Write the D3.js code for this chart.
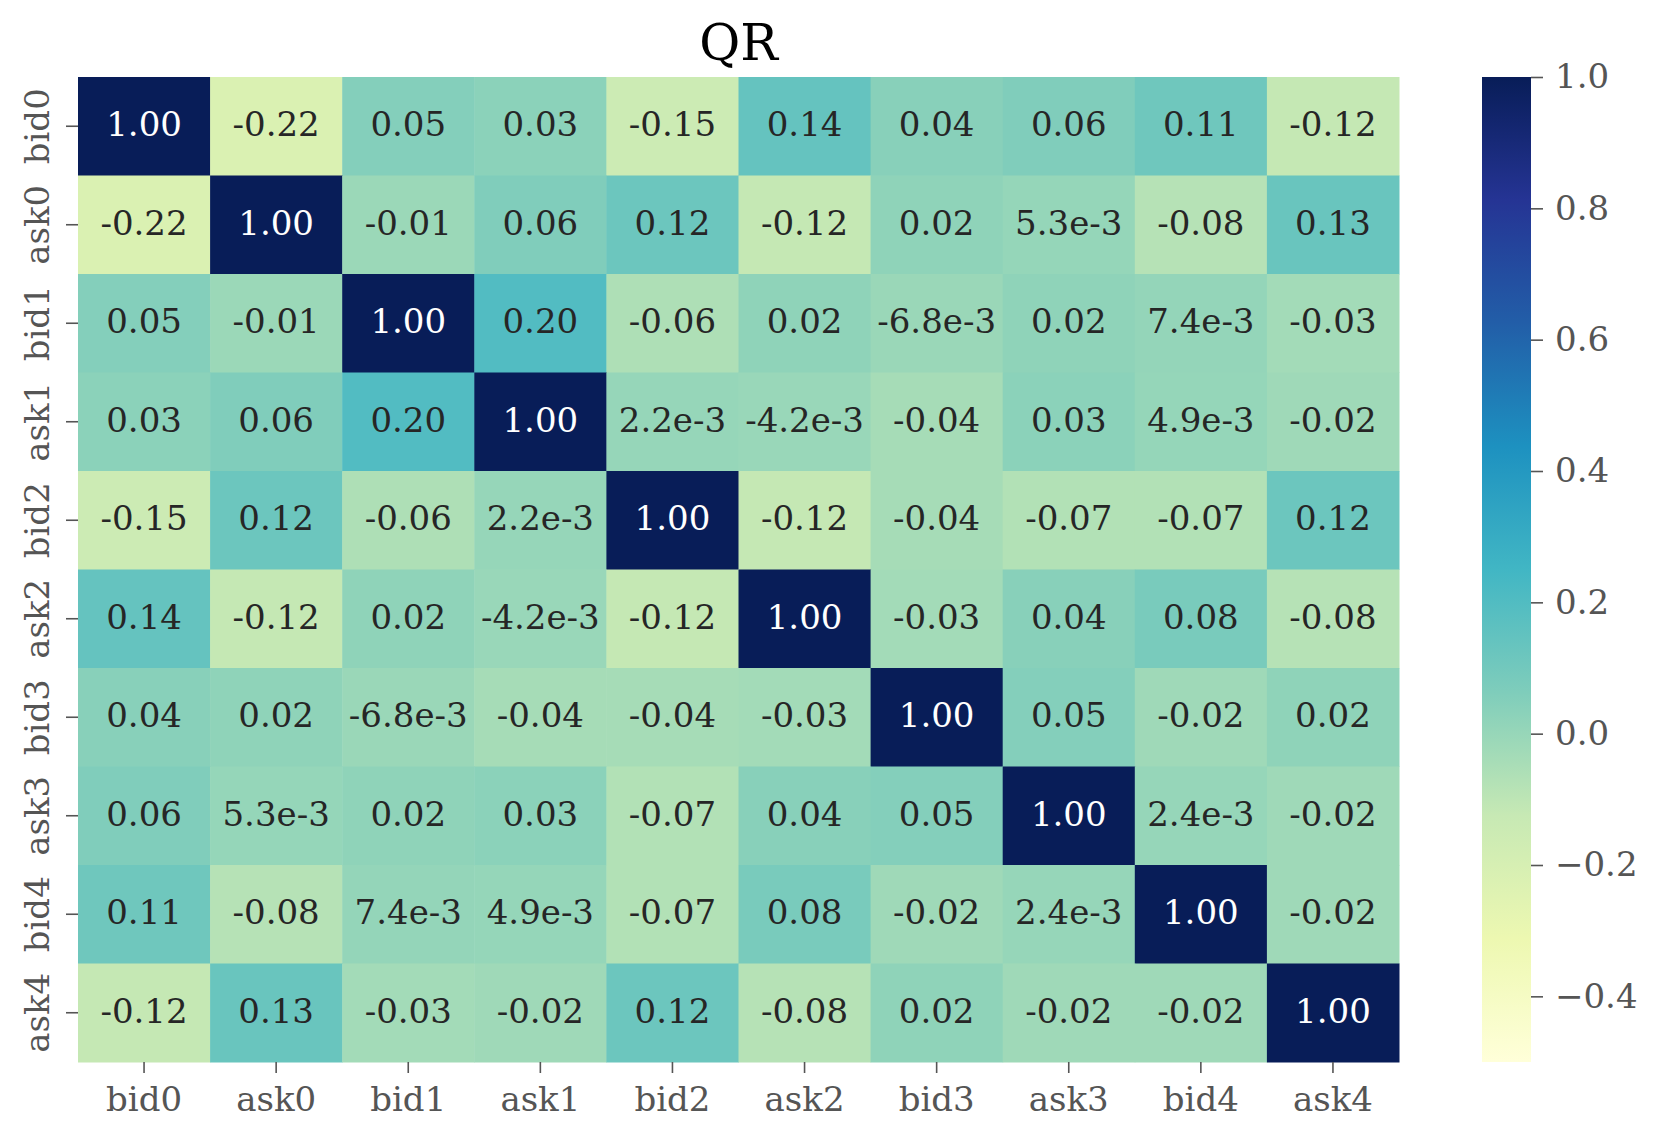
<!DOCTYPE html>
<html lang="en">
<head>
  <meta charset="UTF-8">
  <title>QR</title>
  <script src="https://d3js.org/d3.v7.min.js"></script>
  <style>
    body { margin: 0; background: #fff; }
    svg text { font-family: "DejaVu Serif", serif; }
    .tick line { stroke: #555; stroke-width: 1.6px; }
    .tick text { fill: #555; font-size: 34px; }
    .domain { display: none; }
  </style>
</head>
<body>
  <svg id="chart" width="1661" height="1140"></svg>
  <script>
    // labels for both axes
    const labels = ["bid0", "ask0", "bid1", "ask1", "bid2", "ask2", "bid3", "ask3", "bid4", "ask4"];

    // correlation rows
    const rowBid0 = [1.00, -0.22, 0.05, 0.03, -0.15, 0.14, 0.04, 0.06, 0.11, -0.12];
    const rowAsk0 = [-0.22, 1.00, -0.01, 0.06, 0.12, -0.12, 0.02, 0.0053, -0.08, 0.13];
    const rowBid1 = [0.05, -0.01, 1.00, 0.20, -0.06, 0.02, -0.0068, 0.02, 0.0074, -0.03];
    const rowAsk1 = [0.03, 0.06, 0.20, 1.00, 0.0022, -0.0042, -0.04, 0.03, 0.0049, -0.02];
    const rowBid2 = [-0.15, 0.12, -0.06, 0.0022, 1.00, -0.12, -0.04, -0.07, -0.07, 0.12];
    const rowAsk2 = [0.14, -0.12, 0.02, -0.0042, -0.12, 1.00, -0.03, 0.04, 0.08, -0.08];
    const rowBid3 = [0.04, 0.02, -0.0068, -0.04, -0.04, -0.03, 1.00, 0.05, -0.02, 0.02];
    const rowAsk3 = [0.06, 0.0053, 0.02, 0.03, -0.07, 0.04, 0.05, 1.00, 0.0024, -0.02];
    const rowBid4 = [0.11, -0.08, 0.0074, 0.0049, -0.07, 0.08, -0.02, 0.0024, 1.00, -0.02];
    const rowAsk4 = [-0.12, 0.13, -0.03, -0.02, 0.12, -0.08, 0.02, -0.02, -0.02, 1.00];
    const rows = [rowBid0, rowAsk0, rowBid1, rowAsk1, rowBid2, rowAsk2, rowBid3, rowAsk3, rowBid4, rowAsk4];

    const colorTicks = [-0.4, -0.2, 0.0, 0.2, 0.4, 0.6, 0.8, 1.0];
    const vmin = -0.5, vmax = 1.0;

    // matplotlib YlGnBu anchors
    const ylgnbu = ["#ffffd9", "#edf8b1", "#c7e9b4", "#7fcdbb", "#41b6c4", "#1d91c0", "#225ea8", "#253494", "#081d58"];

    const svg = d3.select("#chart");
    const margin = {left: 78, top: 77, right: 1399, bottom: 1062};

    const x = d3.scaleBand().domain(labels).range([margin.left, margin.right]);
    const y = d3.scaleBand().domain(labels).range([margin.top, margin.bottom]);

    const color = d3.scaleLinear()
      .domain(ylgnbu.map((c, i) => vmin + (vmax - vmin) * i / (ylgnbu.length - 1)))
      .range(ylgnbu)
      .interpolate(d3.interpolateRgb)
      .clamp(true);

    function fmt(v) {
      if (v !== 0 && Math.abs(v) < 0.01) {
        const e = Math.floor(Math.log10(Math.abs(v)));
        const m = v / Math.pow(10, e);
        return m.toFixed(1) + "e" + e;
      }
      return v.toFixed(2);
    }

    function lum(c) {
      const rgb = d3.rgb(c);
      const f = ch => { ch /= 255; return ch <= 0.03928 ? ch / 12.92 : Math.pow((ch + 0.055) / 1.055, 2.4); };
      return 0.2126 * f(rgb.r) + 0.7152 * f(rgb.g) + 0.0722 * f(rgb.b);
    }

    const cells = [];
    rows.forEach((r, i) => r.forEach((v, j) => cells.push({row: labels[i], col: labels[j], v})));

    const g = svg.append("g");
    g.selectAll("rect")
      .data(cells)
      .enter().append("rect")
      .attr("x", d => x(d.col))
      .attr("y", d => y(d.row))
      .attr("width", x.bandwidth() + 0.5)
      .attr("height", y.bandwidth() + 0.5)
      .attr("fill", d => color(d.v));

    g.selectAll("text.annot")
      .data(cells)
      .enter().append("text")
      .attr("class", "annot")
      .attr("x", d => x(d.col) + x.bandwidth() / 2)
      .attr("y", d => y(d.row) + y.bandwidth() / 2)
      .attr("dy", "0.3em")
      .attr("text-anchor", "middle")
      .style("font-size", "34px")
      .attr("fill", d => lum(color(d.v)) < 0.408 ? "#ffffff" : "#262626")
      .text(d => fmt(d.v));

    // axes
    svg.append("g")
      .attr("transform", `translate(0,${margin.bottom})`)
      .call(d3.axisBottom(x).tickSize(11).tickPadding(14));

    const yAxis = svg.append("g")
      .attr("transform", `translate(${margin.left},0)`)
      .call(d3.axisLeft(y).tickSize(12).tickPadding(0));
    yAxis.selectAll(".tick text")
      .attr("x", 0).attr("dy", 0)
      .attr("text-anchor", "middle")
      .attr("transform", "translate(-29,0) rotate(-90)");

    // title
    svg.append("text")
      .attr("x", (margin.left + margin.right) / 2)
      .attr("y", 60)
      .attr("text-anchor", "middle")
      .style("font-size", "50px")
      .attr("fill", "#000")
      .text("QR");

    // colorbar
    const cbX = 1482, cbW = 49;
    const cy = d3.scaleLinear().domain([vmin, vmax]).range([margin.bottom, margin.top]);

    const grad = svg.append("defs").append("linearGradient")
      .attr("id", "cbar").attr("x1", 0).attr("y1", 1).attr("x2", 0).attr("y2", 0);
    grad.selectAll("stop")
      .data(ylgnbu)
      .enter().append("stop")
      .attr("offset", (c, i) => i / (ylgnbu.length - 1))
      .attr("stop-color", c => c);

    svg.append("rect")
      .attr("x", cbX).attr("y", margin.top)
      .attr("width", cbW).attr("height", margin.bottom - margin.top)
      .attr("fill", "url(#cbar)");

    svg.append("g")
      .attr("transform", `translate(${cbX + cbW},0)`)
      .call(d3.axisRight(cy).tickValues(colorTicks).tickFormat(d3.format(".1f")).tickSize(12).tickPadding(12));
  </script>
</body>
</html>
